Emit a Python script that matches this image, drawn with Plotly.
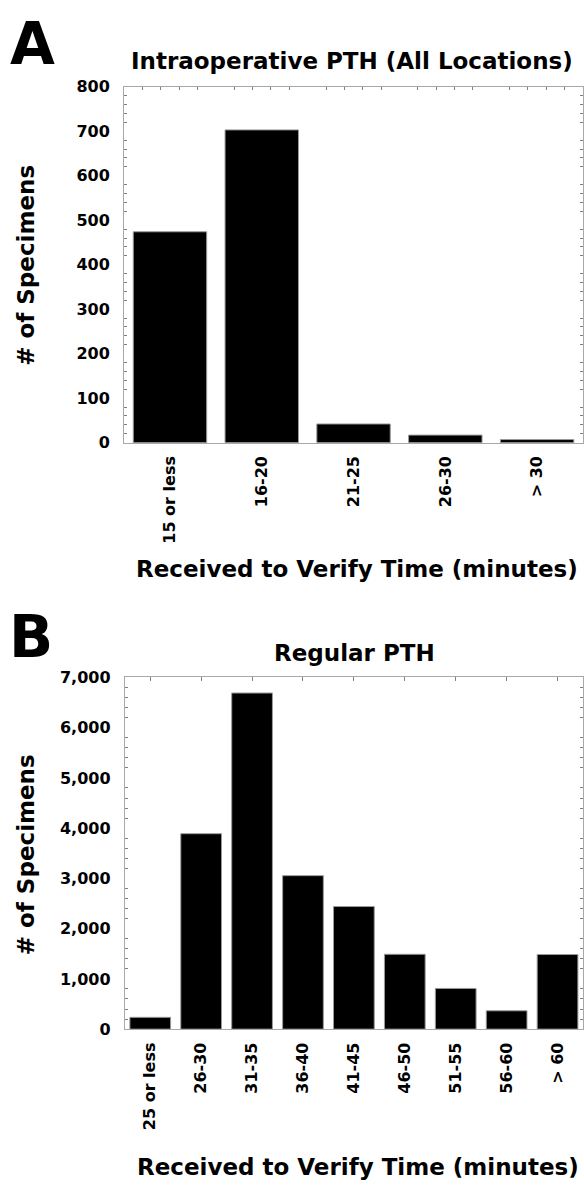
import plotly.graph_objects as go

W, H = 584, 1189

# ---- data ----
cats_a = ["15 or less", "16-20", "21-25", "26-30", "> 30"]
vals_a = [474, 703, 42, 17, 7]
cats_b = ["25 or less", "26-30", "31-35", "36-40", "41-45", "46-50", "51-55", "56-60", "> 60"]
vals_b = [235, 3890, 6690, 3055, 2440, 1490, 810, 365, 1485]

title_a = "Intraoperative PTH (All Locations)"
title_b = "Regular PTH"
x_title = "Received to Verify Time (minutes)"
y_title = "# of Specimens"

FONT = "DejaVu Sans"
LINE = "#a8a8a8"
TICK = "#808080"

def px_x(p):
    return p / W

def px_y(p):
    return 1 - p / H

fig = go.Figure()
bar_style = dict(marker=dict(color="black", line=dict(color="#9a9a9a", width=1)),
                 showlegend=False, hoverinfo="skip")
fig.add_trace(go.Bar(x=cats_a, y=vals_a, xaxis="x", yaxis="y", **bar_style))
fig.add_trace(go.Bar(x=cats_b, y=vals_b, xaxis="x2", yaxis="y2", **bar_style))
# empty traces so overlay (tick-only) axes are drawn
fig.add_trace(go.Scatter(x=[], y=[], xaxis="x3", yaxis="y", showlegend=False))
fig.add_trace(go.Scatter(x=[], y=[], xaxis="x4", yaxis="y2", showlegend=False))

tickfont = dict(family=FONT, size=16, color="black", weight="bold")

dom_a_x = [px_x(124.3), 1.0]
dom_a_y = [px_y(440.7), px_y(79)]
dom_b_x = [px_x(125), 1.0]
dom_b_y = [px_y(1036.7), px_y(679.3)]

def cat_axis(domain, anchor):
    return dict(domain=domain, anchor=anchor, type="category",
                showline=True, linecolor=LINE, linewidth=1, mirror=True,
                ticks="", tickangle=-90, tickfont=tickfont,
                ticklabelstandoff=6, showgrid=False, zeroline=False, fixedrange=True)

def val_axis(domain, anchor, rng, dtick, minor, fmt):
    return dict(domain=domain, anchor=anchor, range=rng, tickmode="linear", tick0=0,
                dtick=dtick, tickformat=fmt, showline=True, linecolor=LINE, linewidth=1,
                mirror="ticks", ticks="", tickfont=tickfont, ticklabelstandoff=10,
                minor=dict(dtick=minor, ticks="inside", ticklen=3, tickcolor=TICK,
                           tickwidth=1, showgrid=False),
                showgrid=False, zeroline=False, fixedrange=True)

fig.update_layout(
    width=W, height=H,
    margin=dict(l=0, r=0, t=0, b=0),
    paper_bgcolor="white", plot_bgcolor="white",
    bargap=0.2,
    xaxis=cat_axis(dom_a_x, "y"),
    yaxis=val_axis(dom_a_y, "x", [0, 800], 100, 20, "d"),
    xaxis2=cat_axis(dom_b_x, "y2"),
    yaxis2=val_axis(dom_b_y, "x2", [0, 7000], 1000, 200, ",d"),
    xaxis3=dict(overlaying="x", anchor="y", side="top", range=[0, len(cats_a)],
                tickmode="linear", tick0=0, dtick=1, ticks="", showticklabels=False,
                showline=False, showgrid=False, zeroline=False, fixedrange=True,
                minor=dict(dtick=0.2, ticks="inside", ticklen=3, tickcolor=TICK,
                           tickwidth=1, showgrid=False)),
    xaxis4=dict(overlaying="x2", anchor="y2", side="top", range=[0, len(cats_b)],
                tickmode="linear", tick0=0.5, dtick=1, ticks="inside", ticklen=4,
                tickcolor=TICK, tickwidth=1, showticklabels=False,
                showline=False, showgrid=False, zeroline=False, fixedrange=True),
)

def ann(text, xp, yp, size, angle=0, xanchor="center"):
    fig.add_annotation(text=text, x=px_x(xp), y=px_y(yp), xref="paper", yref="paper",
                       showarrow=False, xanchor=xanchor, yanchor="middle",
                       textangle=angle,
                       font=dict(family=FONT, size=size, color="black", weight="bold"))

# panel letters
ann("A", 8, 36, 58, xanchor="left")
ann("B", 7, 638, 58, xanchor="left")
# titles
ann(title_a, 353, 53, 23)
ann(title_b, 355, 654, 23)
# y titles
ann(y_title, 26, 260, 23, angle=-90)
ann(y_title, 26, 859, 23, angle=-90)
# x titles
ann(x_title, 357.5, 569, 23)
ann(x_title, 359, 1177, 23)

fig.write_html("out.html", post_script="document.body.style.margin='0';",
               config={"displayModeBar": False})
